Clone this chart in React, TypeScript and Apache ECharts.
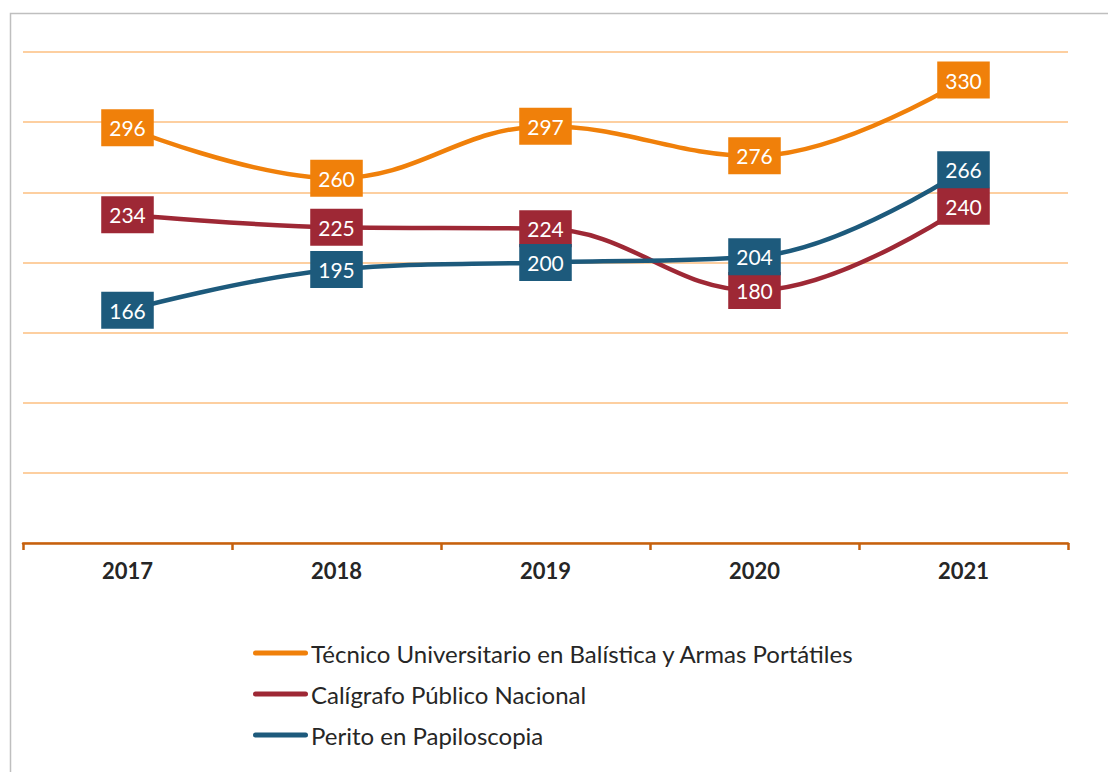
import React, { useEffect, useRef } from "react";
import * as echarts from "echarts";

const years = ["2017", "2018", "2019", "2020", "2021"];
const seriesNames = [
  "Técnico Universitario en Balística y Armas Portátiles",
  "Calígrafo Público Nacional",
  "Perito en Papiloscopia",
];
const tecnicoValues = [296, 260, 297, 276, 330];
const caligrafoValues = [234, 225, 224, 180, 240];
const peritoValues = [166, 195, 200, 204, 266];
const colors = ["#F0800A", "#9E2835", "#1D5A7C"];

export default function App() {
  const ref = useRef<HTMLDivElement>(null);
  useEffect(() => {
    if (!ref.current) return;
    const chart = echarts.init(ref.current, null, { renderer: "svg" });
    const allValues = [tecnicoValues, caligrafoValues, peritoValues];
    const mkSeries = (i: number) => ({
      name: seriesNames[i],
      type: "line",
      data: allValues[i],
      smooth: 0.4,
      symbol: "circle",
      symbolSize: 2,
      itemStyle: { color: colors[i] },
      lineStyle: { color: colors[i], width: 4.5 },
      z: 3 + i,
      label: {
        show: true,
        position: "inside",
        backgroundColor: colors[i],
        color: "#ffffff",
        fontFamily: "Lato",
        fontSize: 21,
        lineHeight: 21,
        padding: [8, 8, 8, 8],
      },
    });
    chart.setOption({
      animation: false,
      backgroundColor: "#ffffff",
      color: colors,
      grid: { left: 23, right: 40, top: 52, bottom: 229, containLabel: false },
      xAxis: {
        type: "category",
        data: years,
        boundaryGap: true,
        axisLine: { show: true, lineStyle: { color: "#C5600E", width: 2.5 } },
        axisTick: { show: true, length: 7, lineStyle: { color: "#C5600E", width: 2.5 } },
        axisLabel: {
          color: "#262626",
          fontFamily: "Lato",
          fontWeight: "bold",
          fontSize: 22,
          margin: 16,
        },
        splitLine: { show: false },
      },
      yAxis: {
        type: "value",
        min: 0,
        max: 350,
        interval: 50,
        axisLine: { show: false },
        axisTick: { show: false },
        axisLabel: { show: false },
        splitLine: { show: true, lineStyle: { color: "#FDBF80", width: 1.5 } },
      },
      legend: {
        orient: "vertical",
        left: 253,
        top: 639,
        padding: 0,
        itemWidth: 55,
        itemHeight: 5,
        itemGap: 13,
        icon: "path://M2.5,0 L52.5,0 A2.5,2.5 0 0 1 52.5,5 L2.5,5 A2.5,2.5 0 0 1 2.5,0 Z",
        textStyle: {
          color: "#262626",
          fontFamily: "Lato",
          fontSize: 24,
          lineHeight: 28,
          padding: [0, 0, 0, -2],
        },
        data: seriesNames,
      },
      graphic: [
        {
          type: "rect",
          left: 8,
          top: 11,
          shape: { x: 0, y: 0, width: 1120, height: 800 },
          style: { fill: "none", stroke: "#BFBFBF", lineWidth: 1.5 },
          silent: true,
          z: -1,
        },
      ],
      series: [mkSeries(0), mkSeries(1), mkSeries(2)],
    });
    return () => chart.dispose();
  }, []);
  return (
    <div
      ref={ref}
      style={{ position: "fixed", left: 0, top: 0, width: 1108, height: 772 }}
    />
  );
}
